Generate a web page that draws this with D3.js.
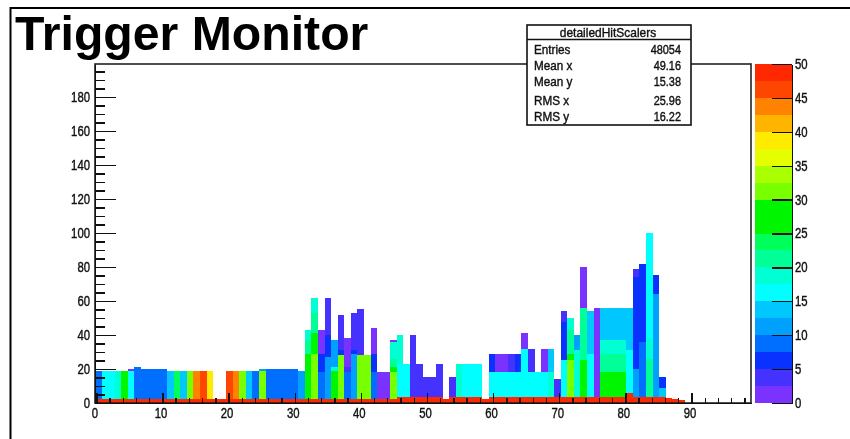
<!DOCTYPE html>
<html lang="en">
<head>
<meta charset="UTF-8">
<title>Trigger Monitor</title>
<script src="https://d3js.org/d3.v7.min.js"></script>
<style>
    html, body { margin: 0; background: #fff; }
    svg { display: block; filter: blur(0.55px); }
    text { font-family: "Liberation Sans", Arial, sans-serif; fill: #111; stroke: #111; stroke-width: 0.4px; }
    .axis text { font-size: 14px; font-weight: 400; }
    .axis path, .axis line { stroke: #111; stroke-width: 1.4px; shape-rendering: crispEdges; }
    .cell { shape-rendering: crispEdges; }
</style>
</head>
<body>
<svg width="850" height="439"></svg>
<script>
    // colour palette of the z axis, 20 levels from 0 to 50
    const palette = ["#7a32ff", "#4632ff", "#0a32ff", "#006eff", "#00a0ff", "#00c8ff", "#00ffff", "#00ffd2",
        "#00ff96", "#00ff5a", "#00f500", "#00f500", "#78ff00", "#aaff00", "#e6ff00", "#ffeb00",
        "#ffb400", "#ff8200", "#ff4600", "#ff2800"];

    // each column: bin number, then bands as [top y, count] from the bottom up
    const bins = [0, 1, 2, 3, 4, 5, 6, 7, 8, 9, 10, 11, 12, 13, 14, 15, 16, 17, 20, 21, 22, 23, 24, 25, 26, 27, 28, 29, 30, 31,
        32, 33, 34, 35, 36, 37, 38, 39, 40, 41, 42, 43, 44, 45, 46, 47, 48, 49, 50, 51, 52, 54, 55, 56, 57, 58,
        60, 61, 62, 63, 64, 65, 66, 67, 68, 69, 70, 71, 72, 73, 74, 75, 76, 77, 78, 79, 80, 81, 82, 83, 84, 85, 86];
    const bands = [
        [[19, 8.5]], [[19, 16]], [[19, 16]], [[19, 18.5]], [[19, 26]], [[19, 16], [20, 1]],
        [[21, 8.5]], [[20, 8.5]], [[20, 8.5]], [[20, 8.5]], [[20, 8.5]], [[19, 13.5]],
        [[19, 23.5]], [[19, 13.5]], [[19, 31]], [[19, 43.5]], [[19, 46]], [[19, 38.5]],
        [[19, 46]], [[19, 43.5]], [[19, 31]], [[19, 13.5]], [[19, 8.5]], [[19, 31], [20, 11]],
        [[20, 8.5]], [[20, 8.5]], [[20, 8.5]], [[20, 8.5]], [[20, 8.5]], [[19, 11]],
        [[29, 26], [37, 21], [43, 18.5]],
        [[29, 31], [41, 26], [53, 21], [62, 18.5]],
        [[18, 8.5], [29, 6], [43, 1]],
        [[27, 11], [40, 6], [62, 3.5]],
        [[19, 26], [21, 18.5], [37, 11]],
        [[28, 31], [31, 6], [52, 3.5]],
        [[18, 8.5], [21, 3.5], [38, 1]],
        [[29, 11], [31, 6], [53, 3.5]],
        [[28, 31], [55, 3.5]],
        [[28, 31]],
        [[18, 8.5], [29, 6], [44, 1]],
        [[18, 1]], [[18, 1]],
        [[18, 31], [21, 26], [26, 21], [36, 18.5], [37, 1]],
        [[23, 16], [40, 18.5]],
        [[23, 16]], [[40, 3.5]], [[23, 3.5]], [[15, 3.5]], [[15, 3.5]], [[23, 3.5]], [[15, 3.5]],
        [[23, 18.5]], [[23, 16]], [[23, 16]], [[23, 16]],
        [[18, 16], [29, 6]], [[18, 16], [29, 1]], [[18, 16], [29, 1]], [[18, 16], [29, 3.5]], [[18, 16], [29, 6]],
        [[32, 16], [41, 1]], [[18, 16], [32, 3.5]], [[18, 16]], [[18, 16], [32, 1]], [[18, 18.5], [32, 13.5]],
        [[14, 3.5]],
        [[25, 16], [47.5, 6], [54, 3.5]],
        [[25, 31], [29, 26], [43, 21], [50, 18.5]],
        [[31, 18.5], [40, 11]],
        [[25, 26], [56, 21], [80, 1]],
        [[29, 16], [54, 13.5]],
        [[56, 1]],
        [[18, 26], [29, 21], [37, 18.5], [56, 13.5]],
        [[18, 26], [29, 21], [37, 18.5], [56, 13.5]],
        [[18, 26], [29, 21], [37, 18.5], [56, 13.5]],
        [[18, 26], [29, 21], [37, 18.5], [56, 13.5]],
        [[31, 16], [56, 13.5]],
        [[20, 11], [74, 6], [79, 3.5]],
        [[36, 8.5], [82, 6]],
        [[26, 21], [38, 18.5], [100, 16]],
        [[64, 11], [75, 6]],
        [[9, 13.5], [15, 6]]
    ];

    // the red row along the bottom, one top per bin 0..89
    const bottomTops = [2.6, 2.6, 2.6, 2.6, 2.6, 2.6, 2.6, 2.6, 2.6, 2.6, 2.6, 2.6, 2.6, 2.6, 2.6, 2.6, 2.6, 2.6, 2.6, 2.6,
        2.6, 2.6, 2.6, 2.6, 2.6, 2.6, 2.6, 2.6, 2.6, 2.6, 2.6, 2.6, 2.6, 2.6, 2.6, 2.6, 2.6, 2.6, 2.6, 2.6,
        2.6, 2.6, 2.6, 2.6, 2.6, 2.6, 3.6, 3.6, 3.6, 3.6, 3.6, 3.6, 3.6, 2.6, 3.6, 3.6, 3.6, 3.6, 3.6, 2.6,
        3.6, 3.6, 3.6, 3.6, 3.6, 3.6, 3.6, 3.6, 3.6, 3.6, 3.6, 3.6, 3.6, 3.6, 3.6, 3.6, 3.6, 3.6, 3.6, 3.6,
        3.6, 5.6, 3.6, 3.6, 3.6, 3.6, 3.6, 3, 2.4, 1.8];
    const bottomCount = 49;

    const statsTitle = "detailedHitScalers";
    const statNames = ["Entries", "Mean x", "Mean y", "RMS x", "RMS y"];
    const statValues = ["48054", "49.16", "15.38", "25.96", "16.22"];
    const statRows = [49, 65.5, 81.5, 100, 116];

    const plotLeft = 95, plotRight = 751, plotTop = 64, plotBottom = 403;
    const svg = d3.select("svg");

    const binX = d3.scaleLinear().domain([0, 100]).range([plotLeft, plotRight]);
    const x = d3.scaleLinear().domain([-0.2, 99]).range([plotLeft, plotRight]);
    const y = d3.scaleLinear().domain([0, 199.4]).range([plotBottom, plotTop]);
    const z = d3.scaleLinear().domain([0, 50]).range([plotBottom, plotTop]);
    const color = d3.scaleQuantize().domain([0, 50]).range(palette);

    // squeeze the text sideways, the original font is a narrow one
    function narrow(selection, k) {
        selection.each(function () {
            d3.select(this)
                .attr("textLength", this.getComputedTextLength() * k)
                .attr("lengthAdjust", "spacingAndGlyphs");
        });
    }

    // outer page lines
    svg.append("path").attr("d", "M10.5,439V8H850").attr("fill", "none").attr("stroke", "#000").attr("stroke-width", 2);

    // histogram cells
    let columns = svg.selectAll(".col")
        .data(bins)
        .join("g")
        .attr("class", "col");
    columns.selectAll("rect")
        .data((d, i) => bands[i].map((b, j) => ({
            bin: d,
            y0: j ? bands[i][j - 1][0] : 0,
            y1: b[0],
            count: b[1]
        })))
        .join("rect")
        .attr("class", "cell")
        .attr("x", d => binX(d.bin))
        .attr("width", d => binX(d.bin + 1) - binX(d.bin))
        .attr("y", d => y(d.y1))
        .attr("height", d => y(d.y0) - y(d.y1))
        .attr("fill", d => color(d.count));

    svg.selectAll(".bottom")
        .data(bottomTops)
        .join("rect")
        .attr("class", "bottom cell")
        .attr("x", (d, i) => binX(i))
        .attr("width", (d, i) => binX(i + 1) - binX(i))
        .attr("y", d => y(d))
        .attr("height", d => y(0) - y(d))
        .attr("fill", color(bottomCount));

    // plot frame
    svg.append("rect")
        .attr("x", plotLeft).attr("y", plotTop)
        .attr("width", plotRight - plotLeft).attr("height", plotBottom - plotTop)
        .attr("fill", "none").attr("stroke", "#222").attr("stroke-width", 1.6);

    // x axis
    const xMajor = d3.range(0, 91, 10);
    const xMinor = d3.range(0, 99, 2).filter(v => v % 10);
    svg.append("g").attr("class", "axis").attr("transform", `translate(0,${plotBottom})`)
        .call(d3.axisBottom(x).tickValues(xMinor).tickSize(-5).tickFormat("").tickSizeOuter(0));
    svg.append("g").attr("class", "axis x-major").attr("transform", `translate(0,${plotBottom})`)
        .call(d3.axisBottom(x).tickValues(xMajor).tickSize(-10).tickPadding(5).tickSizeOuter(0));
    svg.selectAll(".x-major text").attr("dx", -2);

    // y axis
    const yMajor = d3.range(0, 181, 20);
    const yMinor = d3.range(0, 199, 5).filter(v => v % 20);
    svg.append("g").attr("class", "axis").attr("transform", `translate(${plotLeft},0)`)
        .call(d3.axisLeft(y).tickValues(yMinor).tickSize(-10).tickFormat("").tickSizeOuter(0));
    svg.append("g").attr("class", "axis").attr("transform", `translate(${plotLeft},0)`)
        .call(d3.axisLeft(y).tickValues(yMajor).tickSize(-21).tickPadding(5).tickSizeOuter(0));

    // colour bar
    const barLeft = 754.5, barRight = 792;
    svg.selectAll(".level")
        .data(palette)
        .join("rect")
        .attr("class", "level cell")
        .attr("x", barLeft)
        .attr("width", barRight - barLeft)
        .attr("y", (d, i) => z((i + 1) * 2.5))
        .attr("height", (d, i) => z(i * 2.5) - z((i + 1) * 2.5))
        .attr("fill", d => d);
    svg.append("g").attr("class", "axis").attr("transform", `translate(${barRight},0)`)
        .call(d3.axisRight(z).tickValues(d3.range(0, 51, 5)).tickSize(-20).tickPadding(3).tickSizeOuter(0));

    narrow(svg.selectAll(".axis text"), 0.81);

    // stats box
    const stats = svg.append("g");
    stats.append("rect")
        .attr("x", 527).attr("y", 25).attr("width", 164).attr("height", 100)
        .attr("fill", "#fff").attr("stroke", "#111").attr("stroke-width", 1.6);
    stats.append("line")
        .attr("x1", 527).attr("x2", 691).attr("y1", 39.5).attr("y2", 39.5)
        .attr("stroke", "#111").attr("stroke-width", 1.6);
    stats.append("text")
        .attr("x", 608).attr("y", 32).attr("dy", "0.35em")
        .attr("text-anchor", "middle").attr("font-size", 13)
        .text(statsTitle)
        .call(narrow, 0.92);
    stats.selectAll(".name")
        .data(statNames)
        .join("text")
        .attr("class", "name")
        .attr("x", 534)
        .attr("y", (d, i) => statRows[i]).attr("dy", "0.35em")
        .attr("font-size", 13)
        .text(d => d)
        .call(narrow, 0.9);
    stats.selectAll(".value")
        .data(statValues)
        .join("text")
        .attr("class", "value")
        .attr("x", 681)
        .attr("y", (d, i) => statRows[i]).attr("dy", "0.35em")
        .attr("text-anchor", "end").attr("font-size", 13)
        .text(d => d)
        .call(narrow, 0.84);

    // title
    svg.append("text")
        .attr("x", 15).attr("y", 50)
        .style("fill", "#000")
        .style("stroke", "none")
        .attr("font-size", 48.2).attr("font-weight", 700)
        .text("Trigger Monitor");
</script>
</body>
</html>
